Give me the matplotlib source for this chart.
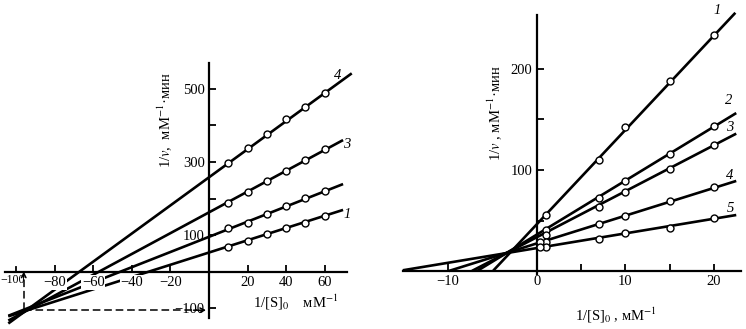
import matplotlib
matplotlib.use("Agg")
import matplotlib.pyplot as plt

plt.rcParams['font.family'] = ['Liberation Serif', 'DejaVu Serif']
plt.rcParams['mathtext.fontset'] = 'stix'

# ---- Left panel: double-reciprocal plots, curves 1-4 ----
left_x = [10, 20, 30, 40, 50, 60]
left_y1 = [68, 84, 102, 118, 134, 153]
left_y2 = [118, 134, 157, 180, 202, 220]
left_y3 = [188, 219, 248, 276, 305, 335]
left_y4 = [298, 337, 376, 417, 452, 490]
left_intercepts = [52, 95, 162, 258]
left_slopes = [1.68, 2.08, 2.85, 3.85]
left_x_start = [-104, -104, -104, -104]
left_x_end = [69.5, 69.5, 69.5, 74]
left_names = ['1', '', '3', '4']
left_cross_x = -96
left_cross_y = -106
left_xticks = [-80, -60, -40, -20, 20, 40, 60]
left_xticklabels = ['−80', '−60', '−40', '−20', '20', '40', '60']
left_yticks = [-100, 100, 200, 300, 400, 500]
left_yticklabels = ['−100', '100', '', '300', '', '500']

# ---- Right panel: double-reciprocal plots, curves 1-5 ----
right_x = [1, 7, 10, 15, 20]
right_x_extra = [0.4]
right_y1 = [55, 110, 143, 188, 234]
right_y2 = [41, 72, 89, 116, 144]
right_y3 = [36, 63, 78, 101, 125]
right_y4 = [29, 47, 54, 69, 83]
right_y5 = [24, 32, 38, 43, 52]
right_y4_extra = [29]
right_y5_extra = [24]
right_intercepts = [46.2, 36, 33.4, 27.3, 22.7]
right_slopes = [9.35, 5.35, 4.56, 2.75, 1.455]
right_x_start = [-4.9, -6.7, -7.3, -9.9, -15.1]
right_x_end = [22.4, 22.5, 22.5, 22.5, 22.5]
right_names = ['1', '2', '3', '4', '5']
right_xticks = [-10, 0, 5, 10, 15, 20]
right_xticklabels = ['−10', '0', '', '10', '', '20']
right_yticks = [50, 100, 150, 200]
right_yticklabels = ['', '100', '', '200']

W, H = 746, 329
fig = plt.figure(figsize=(W / 100, H / 100), dpi=100)

LW = 1.9
MK = dict(marker='o', ls='none', ms=5, mfc='white', mec='black', mew=1.0, zorder=4)


def style_axes(ax, xb, yb):
    for s in ('top', 'right'):
        ax.spines[s].set_visible(False)
    ax.spines['left'].set_position(('data', 0))
    ax.spines['bottom'].set_position(('data', 0))
    ax.spines['left'].set_bounds(*yb)
    ax.spines['bottom'].set_bounds(*xb)
    for s in ('left', 'bottom'):
        ax.spines[s].set_linewidth(1.6)
        ax.spines[s].set_zorder(3)
    ax.tick_params(direction='in', length=5, width=1.3, labelsize=10.5, pad=3)
    ax.patch.set_visible(False)


# ---------------- left panel ----------------
axL = fig.add_axes([0, 0, 356 / W, 1])
axL.set_xlim(-108.3, 76.2)
axL.set_ylim(-157.5, 743.8)
style_axes(axL, (-105.5, 71.5), (-128, 572))
axL.set_xticks(left_xticks)
axL.set_xticklabels(left_xticklabels)
axL.set_yticks(left_yticks)
axL.set_yticklabels(left_yticklabels)
for lab in axL.get_xticklabels():
    lab.set_bbox(dict(facecolor='white', edgecolor='none', pad=0.6))
axL.xaxis.set_zorder(3.5)

for b, m, x0, x1 in zip(left_intercepts, left_slopes, left_x_start, left_x_end):
    axL.plot([x0, x1], [b + m * x0, b + m * x1], color='black', lw=LW,
             solid_capstyle='butt', zorder=2)
for ys in (left_y1, left_y2, left_y3, left_y4):
    axL.plot(left_x, ys, **MK)

left_name_pos = [(71.5, 155), None, (71.5, 347), (66.5, 538)]
for name, pos in zip(left_names, left_name_pos):
    if name:
        axL.text(pos[0], pos[1], name, fontstyle='italic', fontsize=10.5,
                 ha='center', va='center')

# "-100" label for the leftmost x tick, squeezed against the figure edge
axL.text(-108.0, -23, '−100', ha='left', va='center', fontsize=8.5)
axL.plot([-100, -100], [0, 11], color='black', lw=1.3)

# dashed guides from the common intersection point to both axes
dash = (0, (5, 2.5))
axL.plot([left_cross_x, left_cross_x], [left_cross_y, -14], color='black',
         lw=1.1, ls=dash)
axL.annotate('', xy=(left_cross_x, 0), xytext=(left_cross_x, -16),
             arrowprops=dict(arrowstyle='->', lw=1.1, color='black',
                             shrinkA=0, shrinkB=0, mutation_scale=8))
axL.plot([left_cross_x, -6], [left_cross_y, left_cross_y], color='black',
         lw=1.1, ls=dash)
axL.annotate('', xy=(-1.5, left_cross_y), xytext=(-8, left_cross_y),
             arrowprops=dict(arrowstyle='->', lw=1.1, color='black',
                             shrinkA=0, shrinkB=0, mutation_scale=8))

axL.text(-22.8, 415, '1/$v$,  мМ$^{-1}$·мин', rotation=90, ha='center',
         va='center', fontsize=10.5)
axL.text(22.8, -84, '1/[S]$_0$    мМ$^{-1}$', ha='left', va='center',
         fontsize=10.5)

# ---------------- right panel ----------------
axR = fig.add_axes([395 / W, 0, 351 / W, 1])
axR.set_xlim(-15.98, 23.6)
axR.set_ylim(-57.4, 268.3)
style_axes(axR, (-15.1, 23.0), (-3, 253))
axR.set_xticks(right_xticks)
axR.set_xticklabels(right_xticklabels)
axR.set_yticks(right_yticks)
axR.set_yticklabels(right_yticklabels)

for b, m, x0, x1 in zip(right_intercepts, right_slopes, right_x_start, right_x_end):
    axR.plot([x0, x1], [b + m * x0, b + m * x1], color='black', lw=LW,
             solid_capstyle='butt', zorder=2)
for ys in (right_y1, right_y2, right_y3, right_y4, right_y5):
    axR.plot(right_x, ys, **MK)
axR.plot(right_x_extra, right_y4_extra, **MK)
axR.plot(right_x_extra, right_y5_extra, **MK)

right_name_pos = [(20.4, 258), (21.6, 169), (21.8, 142), (21.8, 95), (21.8, 62)]
for name, pos in zip(right_names, right_name_pos):
    axR.text(pos[0], pos[1], name, fontstyle='italic', fontsize=10.5,
             ha='center', va='center')

axR.text(-4.7, 156, '1/$v$ , мМ$^{-1}$·мин', rotation=90, ha='center',
         va='center', fontsize=10.5)
axR.text(4.3, -43.6, '1/[S]$_0$ , мМ$^{-1}$', ha='left', va='center',
         fontsize=10.5)

fig.savefig('out.png', dpi=100)
